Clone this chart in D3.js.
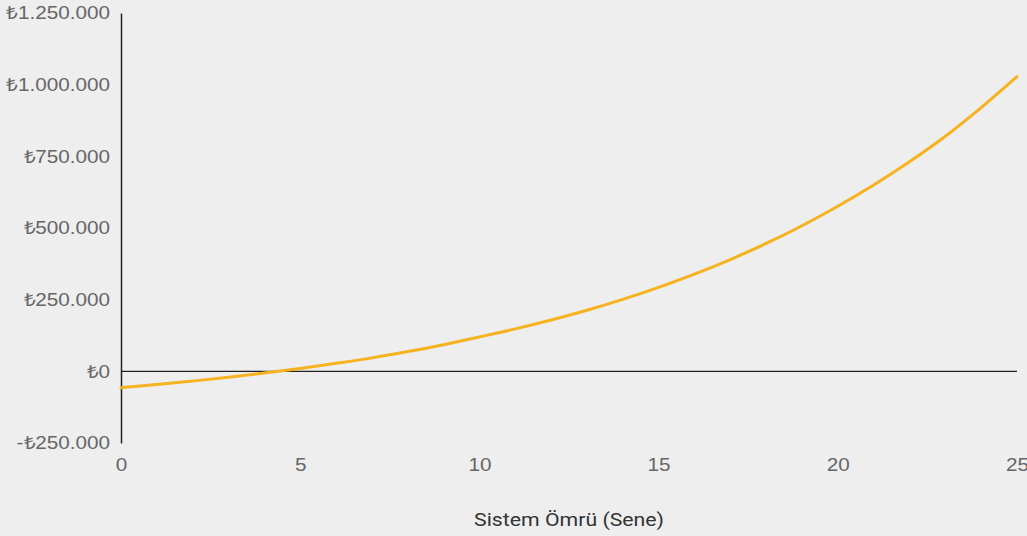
<!DOCTYPE html>
<html>
<head>
<meta charset="utf-8">
<script src="https://cdn.jsdelivr.net/npm/d3@7"></script>
<style>
  html, body { margin: 0; padding: 0; background: #eeeeee; }
  svg { display: block; font-family: Roboto, "DejaVu Sans", sans-serif; }
</style>
</head>
<body>
<svg class="chart" width="1027" height="536"></svg>
<script>
// years of system life
const years = [0, 1, 2, 3, 4, 5, 6, 7, 8, 9, 10, 11, 12, 13, 14, 15, 16, 17, 18, 19, 20, 21, 22, 23, 24, 25];
// cumulative net gain (TL)
const netValue = [-57000, -46000, -34000, -21000, -6000, 10000, 28000, 47000, 69000, 93000,
  120000, 148000, 179000, 213000, 251000, 293000, 339000, 390000, 446000, 508000,
  576000, 650000, 731000, 820000, 920000, 1028000];
const yTicks = [-250000, 0, 250000, 500000, 750000, 1000000, 1250000];
const xTicks = [0, 5, 10, 15, 20, 25];
const xTitle = 'Sistem Ömrü (Sene)';

const svg = d3.select('.chart');
const stretch = 1.15; // the text in the picture is a bit wider than plain Roboto

const trLocale = d3.formatLocale({
  decimal: ',', thousands: '.', grouping: [3], currency: ['₺', ''], minus: '-'
});
const fmtTL = trLocale.format('$,.0f');

const x = d3.scaleLinear().domain([0, 25]).range([121, 1017]);
const y = d3.scaleLinear().domain([-250000, 1250000]).range([443, 13]);

// y axis
const yAxis = svg.append('g')
  .attr('transform', 'translate(121,0)')
  .call(d3.axisLeft(y).tickValues(yTicks).tickFormat(fmtTL).tickSize(0).tickPadding(11));
yAxis.select('.domain').attr('stroke', '#222').attr('stroke-width', 1.5);
yAxis.selectAll('text')
  .attr('fill', '#666').attr('font-size', 18).attr('font-family', null)
  .attr('x', 0)
  .attr('transform', `translate(-11,0) scale(${stretch},1)`);

// x axis labels (no line)
const xAxis = svg.append('g')
  .attr('transform', 'translate(0,452)')
  .call(d3.axisBottom(x).tickValues(xTicks).tickSize(0).tickPadding(6));
xAxis.select('.domain').remove();
xAxis.selectAll('text')
  .attr('fill', '#666').attr('font-size', 18).attr('font-family', null)
  .attr('transform', `scale(${stretch},1)`);

// zero line
svg.append('line')
  .attr('x1', x(0)).attr('x2', x(25))
  .attr('y1', y(0)).attr('y2', y(0))
  .attr('stroke', '#222').attr('stroke-width', 1.3);

const line = d3.line()
  .x((d, i) => x(years[i]))
  .y(d => y(d))
  .curve(d3.curveMonotoneX);

svg.append('path')
  .datum(netValue)
  .attr('d', line)
  .attr('fill', 'none')
  .attr('stroke', '#f6b21f')
  .attr('stroke-width', 3)
  .attr('stroke-linecap', 'round');

svg.append('text')
  .attr('transform', `translate(569,526) scale(${stretch},1)`)
  .attr('text-anchor', 'middle')
  .attr('fill', '#333')
  .attr('font-size', 18.5)
  .text(xTitle);
</script>
</body>
</html>
